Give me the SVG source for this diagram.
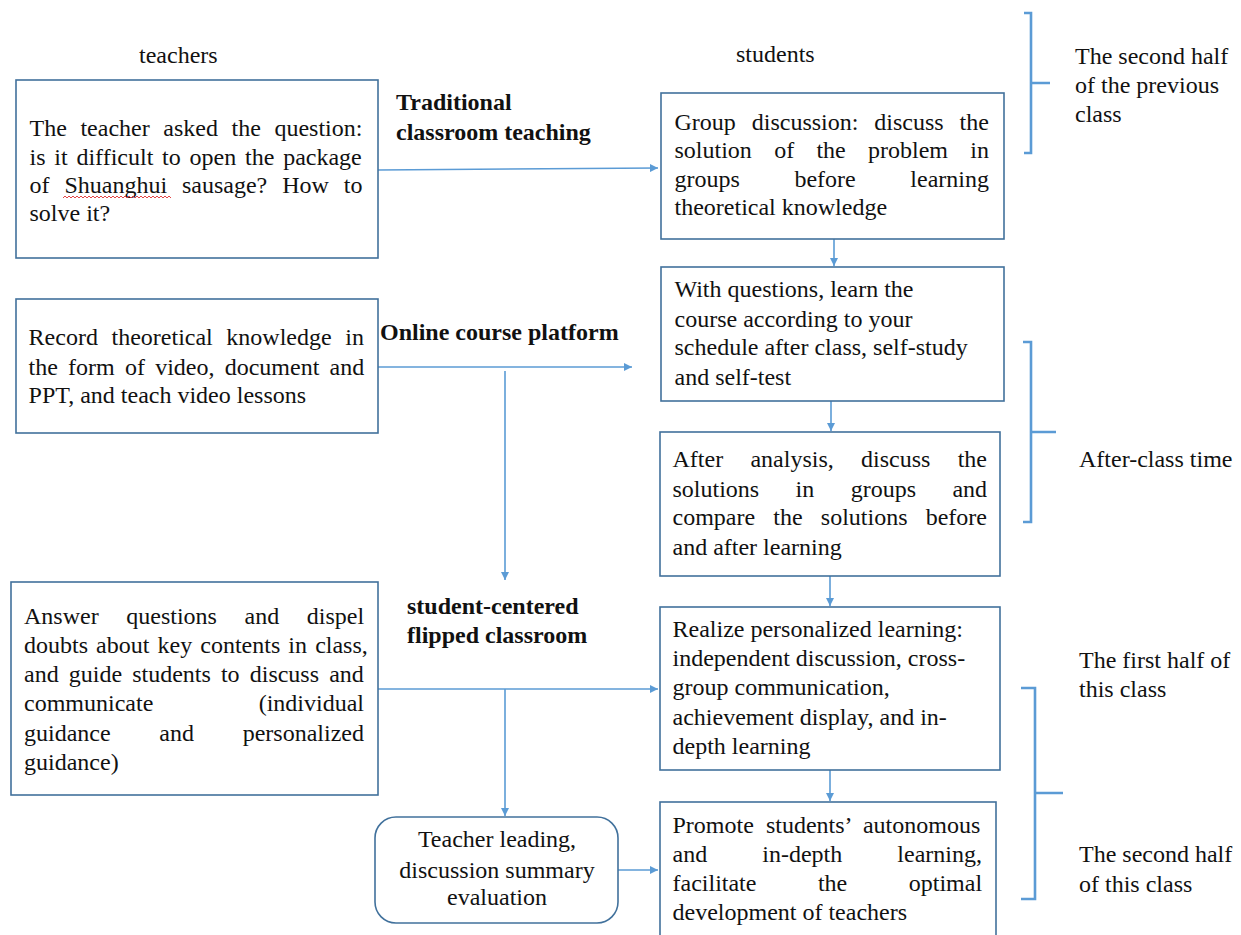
<svg xmlns="http://www.w3.org/2000/svg" width="1241" height="935" viewBox="0 0 1241 935">
<style>
text{font-family:"Liberation Serif","Times New Roman",serif;font-size:24px;fill:#111}
.b{font-weight:bold}
.box{fill:#fff;stroke:#41719c;stroke-width:1.6}
.con{fill:none;stroke:#5b9bd5;stroke-width:1.6}
.br{fill:none;stroke:#5b9bd5;stroke-width:2.6}
.c{text-anchor:middle}
</style>
<defs>
<marker id="ah" viewBox="0 0 10 10" refX="10" refY="5" markerUnits="userSpaceOnUse" markerWidth="9" markerHeight="8" orient="auto">
<path d="M0,0 L10,5 L0,10 z" fill="#5b9bd5"/>
</marker>
</defs>
<rect width="1241" height="935" fill="#fff"/>

<g id="headers">
<text x="139" y="63">teachers</text>
<text x="736" y="62">students</text>
</g>

<g id="connectors">
<path class="con" d="M378,170 L658,168" marker-end="url(#ah)"/>
<path class="con" d="M834,239 V266" marker-end="url(#ah)"/>
<path class="con" d="M831,401 V431" marker-end="url(#ah)"/>
<path class="con" d="M378,367 H632" marker-end="url(#ah)"/>
<path class="con" d="M505,371 V580" marker-end="url(#ah)"/>
<path class="con" d="M378,689 H658" marker-end="url(#ah)"/>
<path class="con" d="M505,689 V816" marker-end="url(#ah)"/>
<path class="con" d="M618,870 H658" marker-end="url(#ah)"/>
<path class="con" d="M830,576 V606" marker-end="url(#ah)"/>
<path class="con" d="M830,770 V801" marker-end="url(#ah)"/>
<text class="b" x="396" y="110">Traditional</text>
<text class="b" x="396" y="140">classroom teaching</text>
<text class="b" x="380" y="340">Online course platform</text>
<text class="b" x="407" y="614">student-centered</text>
<text class="b" x="407" y="643">flipped classroom</text>
</g>

<g id="nodeA">
<rect class="box" x="16" y="80" width="362" height="178"/>
<text x="29.5" y="136" word-spacing="7.6">The teacher asked the question:</text>
<text x="29.5" y="165" word-spacing="2.8">is it difficult to open the package</text>
<text x="29.5" y="193" word-spacing="8.9">of Shuanghui sausage? How to</text>
<text x="29.5" y="221">solve it?</text>
<path d="M63,198 l2,-2 2,2 2,-2 2,2 2,-2 2,2 2,-2 2,2 2,-2 2,2 2,-2 2,2 2,-2 2,2 2,-2 2,2 2,-2 2,2 2,-2 2,2 2,-2 2,2 2,-2 2,2 2,-2 2,2 2,-2 2,2 2,-2 2,2 2,-2 2,2 2,-2 2,2 2,-2 2,2 2,-2 2,2 2,-2 2,2 2,-2 2,2 2,-2 2,2 2,-2 2,2 2,-2 2,2 2,-2 2,2 2,-2 2,2 2,-2 2,2" fill="none" stroke="#e03030" stroke-width="0.9"/>
</g>

<g id="nodeB">
<rect class="box" x="661" y="93" width="343" height="146"/>
<text x="674.5" y="130" word-spacing="9.9">Group discussion: discuss the</text>
<text x="674.5" y="158" word-spacing="16.3">solution of the problem in</text>
<text x="674.5" y="187" word-spacing="48.6">groups before learning</text>
<text x="674.5" y="215">theoretical knowledge</text>
</g>

<g id="nodeC">
<rect class="box" x="661" y="267" width="343" height="134"/>
<text x="674.5" y="297">With questions, learn the</text>
<text x="674.5" y="327">course according to your</text>
<text x="674.5" y="355">schedule after class, self-study</text>
<text x="674.5" y="385">and self-test</text>
</g>

<g id="nodeD">
<rect class="box" x="660" y="432" width="340" height="144"/>
<text x="672.5" y="467" word-spacing="21.3">After analysis, discuss the</text>
<text x="672.5" y="497" word-spacing="30.4">solutions in groups and</text>
<text x="672.5" y="525" word-spacing="12.2">compare the solutions before</text>
<text x="672.5" y="555">and after learning</text>
</g>

<g id="nodeE">
<rect class="box" x="16" y="299" width="362" height="134"/>
<text x="28.6" y="345" word-spacing="7.6">Record theoretical knowledge in</text>
<text x="28.6" y="375" word-spacing="4.2">the form of video, document and</text>
<text x="28.6" y="403">PPT, and teach video lessons</text>
</g>

<g id="nodeF">
<rect class="box" x="11" y="582" width="367" height="213"/>
<text x="24" y="624" word-spacing="21.6">Answer questions and dispel</text>
<text x="24" y="653" word-spacing="2.1">doubts about key contents in class,</text>
<text x="24" y="682" word-spacing="4.1">and guide students to discuss and</text>
<text x="24" y="711" word-spacing="99.4">communicate (individual</text>
<text x="24" y="741" word-spacing="42.7">guidance and personalized</text>
<text x="24" y="770">guidance)</text>
</g>

<g id="nodeG">
<rect class="box" x="375" y="817" width="243" height="106" rx="21" ry="21"/>
<text class="c" x="497" y="847">Teacher leading,</text>
<text class="c" x="497" y="878">discussion summary</text>
<text class="c" x="497" y="905">evaluation</text>
</g>

<g id="nodeH">
<rect class="box" x="660" y="607" width="340" height="163"/>
<text x="672.5" y="637">Realize personalized learning:</text>
<text x="672.5" y="666">independent discussion, cross-</text>
<text x="672.5" y="695">group communication,</text>
<text x="672.5" y="725">achievement display, and in-</text>
<text x="672.5" y="754">depth learning</text>
</g>

<g id="nodeI">
<rect class="box" x="660" y="802" width="336" height="140"/>
<text x="672.5" y="833" word-spacing="6.1">Promote students’ autonomous</text>
<text x="672.5" y="862" word-spacing="49.1">and in-depth learning,</text>
<text x="672.5" y="891" word-spacing="55.5">facilitate the optimal</text>
<text x="672.5" y="920">development of teachers</text>
</g>

<g id="brackets">
<path class="br" d="M1024,13 H1031 V153 H1024 M1031,83 H1050"/>
<path class="br" d="M1023,342 H1031 V522 H1023 M1031,432 H1056"/>
<path class="br" d="M1021,688 H1035 V899 H1021 M1035,793 H1063"/>
</g>

<g id="periods">
<text x="1075" y="64">The second half</text>
<text x="1075" y="93">of the previous</text>
<text x="1075" y="122">class</text>
<text x="1079" y="467">After-class time</text>
<text x="1079" y="668">The first half of</text>
<text x="1079" y="697">this class</text>
<text x="1079" y="862">The second half</text>
<text x="1079" y="892">of this class</text>
</g>
</svg>
